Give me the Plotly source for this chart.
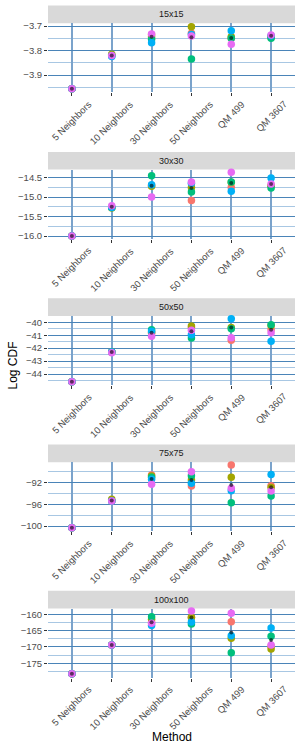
import plotly.graph_objects as go

methods = ["5 Neighbors", "10 Neighbors", "30 Neighbors", "50 Neighbors", "QM 499", "QM 3607"]
grids = ["15x15", "30x30", "50x50", "75x75", "100x100"]
series_names = ["Run 1", "Run 2", "Run 3", "Run 4", "Run 5"]
series_colors = ["#F8766D", "#A3A500", "#00BF7D", "#00B0F6", "#E76BF3"]

# values[grid] = [run1, run2, run3, run4, run5], each across methods
vals_15 = [
    [-3.956, -3.820, -3.735, -3.730, -3.750, -3.742],
    [-3.956, -3.815, -3.745, -3.703, -3.744, -3.746],
    [-3.956, -3.820, -3.754, -3.835, -3.750, -3.750],
    [-3.956, -3.825, -3.768, -3.735, -3.719, -3.740],
    [-3.956, -3.820, -3.733, -3.741, -3.775, -3.737],
]
mean_15 = [-3.956, -3.820, -3.744, -3.746, -3.749, -3.740]

vals_30 = [
    [-16.0, -15.27, -14.70, -15.09, -14.747, -14.70],
    [-16.0, -15.28, -14.72, -14.75, -14.62, -14.72],
    [-16.0, -15.27, -14.449, -14.868, -14.61, -14.765],
    [-16.0, -15.27, -14.68, -14.64, -14.85, -14.508],
    [-16.0, -15.22, -14.997, -14.61, -14.36, -14.662],
]
mean_30 = [-16.0, -15.25, -14.706, -14.765, -14.636, -14.662]

vals_50 = [
    [-44.6, -42.3, -40.8, -40.40, -41.39, -40.55],
    [-44.6, -42.3, -40.8, -40.29, -40.41, -40.25],
    [-44.6, -42.3, -40.57, -41.21, -40.5, -40.19],
    [-44.6, -42.3, -40.70, -40.96, -39.72, -41.47],
    [-44.6, -42.35, -41.08, -40.62, -41.19, -40.80],
]
mean_50 = [-44.6, -42.3, -40.80, -40.70, -40.41, -40.57]

vals_75 = [
    [-100.31, -95.38, -90.58, -92.60, -88.73, -92.55],
    [-100.31, -95.07, -90.76, -91.50, -91.00, -92.90],
    [-100.31, -95.38, -91.00, -90.71, -95.69, -94.46],
    [-100.31, -95.38, -91.37, -92.11, -93.47, -90.48],
    [-100.31, -95.38, -92.30, -89.97, -93.04, -93.53],
]
mean_75 = [-100.31, -95.30, -91.32, -91.50, -92.42, -92.85]

vals_100 = [
    [-178.18, -169.4, -162.5, -161.0, -162.26, -169.8],
    [-178.18, -169.4, -161.5, -160.92, -167.35, -170.6],
    [-178.18, -169.4, -160.73, -162.97, -171.75, -166.74],
    [-178.18, -169.4, -163.4, -162.36, -166.6, -164.2],
    [-178.18, -169.4, -162.76, -158.99, -159.7, -169.4],
]
mean_100 = [-178.18, -169.4, -162.45, -161.0, -165.6, -167.87]

panel_vals = [vals_15, vals_30, vals_50, vals_75, vals_100]
panel_means = [mean_15, mean_30, mean_50, mean_75, mean_100]

# axis settings per panel
y_ranges = [(-3.9706, -3.689), (-16.067, -14.292), (-44.843, -39.505), (-100.96, -88.21), (-179.35, -158.22)]
y_dticks = [0.1, 0.5, 1, 4, 5]
y_tick0 = [-3.9, -16.0, -44, -100, -175]
y_minor = [0.05, 0.25, 0.5, 2, 2.5]
y_fmt = [".1f", ".1f", "d", "d", "d"]

W, H = 300, 750
plot_tops = [23.3, 169.6, 315.9, 462.2, 608.5]
plot_h = 69.0
strip_h = 17.7
left_px, right_px = 48, 295

MAJOR = "#4A84B8"
MINOR = "#A8C7E3"
VGRID = "#7BA3CB"
TICKC = "#4D4D4D"
FONT = "Liberation Sans, Arial, sans-serif"

fig = go.Figure()
layout = dict(
    width=W, height=H,
    margin=dict(l=left_px, r=W - right_px, t=0, b=0),
    paper_bgcolor="white", plot_bgcolor="white",
    showlegend=False,
    font=dict(family=FONT, size=10, color="black"),
)

shapes = []
annotations = []

for i in range(5):
    sfx = "" if i == 0 else str(i + 1)
    top = plot_tops[i]
    bot = top + plot_h
    ydom = [1 - bot / H, 1 - top / H]
    xa = "x" + sfx
    ya = "y" + sfx
    for s in range(5):
        fig.add_trace(go.Scatter(
            x=methods, y=panel_vals[i][s], mode="markers",
            name=series_names[s],
            marker=dict(color=series_colors[s], size=7.5, line=dict(width=0)),
            xaxis=xa, yaxis=ya, cliponaxis=False, hoverinfo="skip",
        ))
    fig.add_trace(go.Scatter(
        x=methods, y=panel_means[i], mode="markers", name="Mean",
        marker=dict(color="rgba(0,0,0,0.6)", size=4, line=dict(width=0)),
        xaxis=xa, yaxis=ya, cliponaxis=False, hoverinfo="skip",
    ))
    layout["xaxis" + sfx] = dict(
        domain=[0, 1], anchor=ya, type="category",
        categoryorder="array", categoryarray=methods,
        range=[-0.6, 5.6], showgrid=True, gridcolor=VGRID, gridwidth=1.5,
        zeroline=False, showline=False,
        ticks="outside", ticklen=3, tickwidth=1, tickcolor="#333333",
        showticklabels=False,
        automargin=False,
    )
    layout["yaxis" + sfx] = dict(
        domain=ydom, anchor=xa, range=list(y_ranges[i]),
        tick0=y_tick0[i], dtick=y_dticks[i], tickformat=y_fmt[i],
        showgrid=True, gridcolor=MAJOR, gridwidth=1,
        minor=dict(tick0=y_tick0[i], dtick=y_minor[i], showgrid=True,
                   gridcolor=MINOR, gridwidth=1, ticks=""),
        zeroline=False, showline=False,
        ticks="outside", ticklen=3, tickwidth=1, tickcolor="#333333",
        tickfont=dict(size=9.5, color=TICKC, family=FONT),
        automargin=False,
    )
    # facet strip
    shapes.append(dict(
        type="rect", xref="paper", yref="paper",
        x0=0, x1=1, y0=1 - top / H, y1=1 - (top - strip_h) / H,
        fillcolor="#D9D9D9", line=dict(width=0), layer="below",
    ))
    annotations.append(dict(
        text=grids[i], xref="paper", yref="paper",
        x=0.5, y=1 - (top - strip_h / 2) / H, xanchor="center", yanchor="middle",
        showarrow=False, font=dict(size=9, color="#1A1A1A", family=FONT),
    ))
    # rotated x tick labels, centred under each tick (ggplot angle=45 style)
    for m in methods:
        annotations.append(dict(
            text=m, xref=xa, yref="paper", x=m, y=1 - (bot + 5.0) / H,
            xanchor="center", yanchor="top", textangle=-45,
            showarrow=False, borderpad=0,
            font=dict(size=9.5, color=TICKC, family=FONT),
        ))

annotations.append(dict(
    text="Method", xref="paper", yref="paper",
    x=0.5, y=1 - 737 / H, xanchor="center", yanchor="middle",
    showarrow=False, font=dict(size=12, color="black", family=FONT),
))
annotations.append(dict(
    text="Log CDF", xref="paper", yref="paper",
    x=(12.5 - left_px) / (right_px - left_px), y=1 - 366 / H,
    xanchor="center", yanchor="middle", textangle=-90,
    showarrow=False, font=dict(size=12, color="black", family=FONT),
))

layout["shapes"] = shapes
layout["annotations"] = annotations
fig.update_layout(**layout)
fig.write_html(
    "out.html",
    config={"displayModeBar": False},
    post_script="document.body.style.margin='0px';document.body.style.padding='0px';document.body.style.overflow='hidden';",
)
